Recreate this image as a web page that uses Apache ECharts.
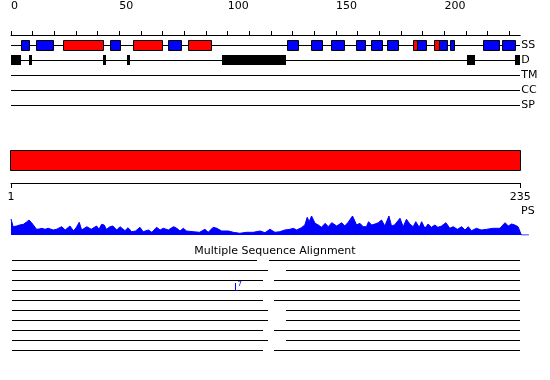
<!DOCTYPE html>
<html><head><meta charset="utf-8">
<script src="https://cdn.jsdelivr.net/npm/echarts@6/dist/echarts.min.js"></script>
<style>html,body{margin:0;padding:0;background:#fff}#c{width:550px;height:380px}</style>
</head><body><div id="c"></div>
<script>
// ---------- data ----------
const seqLength = 235;
const topTicks = [0,10,20,30,40,50,60,70,80,90,100,110,120,130,140,150,160,170,180,190,200,210,220,230];
const topTickLabels = [0,50,100,150,200];
const tracks = ['SS','D','TM','CC','SP'];
// secondary structure: H = helix (red), E = strand (blue)
const ssStart = [4.5,11.5,24,45.5,56.5,72.5,81.5,127.5,138.5,147.5,159,166,173.5,185.5,187.5,195,197.5,202.5,218,226.5];
const ssEnd   = [8.5,19.5,42.5,50.5,69.5,78.5,92.5,132.5,143.5,153.5,163.5,171,178.5,187.5,191.5,197.5,201,204.5,225,232.5];
const ssType  = ['E','E','H','E','H','E','H','E','E','E','E','E','E','H','E','H','E','E','E','E'];
// disorder segments
const disStart = [0,8.3,42.4,53.5,97.3,210.5,232.6];
const disEnd   = [4.5,9.7,43.8,54.9,126.8,214,234.9];
// domain bar
const domainStart = [0];
const domainEnd = [235];
const rangeTicks = [1,235];
// PS profile (residue, height)
const psRes = [0,1,2.6,4,5.7,7.2,8.3,9.5,10.3,11.8,13,14.2,15.7,17.2,19.5,21,23.4,25,27.2,28.8,30,31.5,32.6,35,37,39.5,40.6,41.8,43,44,45.7,47,48.8,50.3,52.6,54,55.7,57.5,59.5,61,63.4,65,67.2,68.8,70.3,72.6,75,76.5,78,79.5,81,84,87,89.5,91,93.3,95,97.2,100.3,102.6,105.6,108.7,111.8,115,117.2,119.5,121.8,124,126.4,128.7,130.3,131.8,134,135.6,136.7,137.6,138.7,140.3,141.8,143.3,145,146.4,148,150.3,152.6,154,155.6,157.6,159.5,161,162.5,164,165,166.4,168,169.5,171,172.5,174.4,175.6,177,179.5,181,182.5,184,185.6,186.8,188.4,189.5,191,192.5,194,195.6,197,198.7,200.7,202.5,204,206,208,209.5,211,212.5,214.8,217,219.5,222.5,225.6,228,229.5,231,232.5,234,235.5,239];
const psVal = [16,8.3,9,10,10.7,13,15,12.3,10,5.7,6,6.7,5.7,6.7,5,5.7,8.3,5,9,4.3,7,12.7,5,8.3,5.7,9,5.7,10.7,10,5.7,8.3,9,5,8.3,4.3,7.3,3.3,4,7.7,3.3,5,2.7,7.7,5,6.7,5,8.3,6.7,4,6.7,4,3.3,2.7,5.7,2.7,7.7,6.7,4,4,2.7,1.7,2.7,2.7,4,2.3,5.7,2.7,3.3,5,5.7,6.7,5,7.3,10,17.7,13.3,19,11.7,10,7.7,11.7,8.3,12.3,9,12.3,9,12.7,19,10,11.7,8.3,8.3,13.3,10,11,12.3,15,9,19,9,10,16.7,8.3,15.7,11,8.3,13.3,7.7,13.3,6.7,11,7.7,10,7.7,9,12.3,6.7,8.3,5.7,8.3,5,8.3,4.3,6.7,5,5.7,6.7,6.7,12.3,9,11,10,8.3,0,0];
// multiple sequence alignment rows
const msaRows = ['1','2','3','4','5','6','7','8','9','10'];
const msaLeftStart  = [0.5,0.5,0.5,0.5,0.5,0.5,0.5,0.5,0.5,0.5];
const msaLeftEnd    = [113.5,118.7,116.4,235,116.4,118.7,118.7,116.4,118.7,116.4];
const msaRightStart = [119,126.8,121.3,null,121.3,126.8,126.8,121.3,126.8,121.3];
const msaRightEnd   = [235,235,235,null,235,235,235,235,235,235];
const insertRow = [3];
const insertPos = [103.5];
const insertLen = ['7'];

// ---------- build ----------
const FONT = 'DejaVu Sans';
const L = 11, W = 235 * 2.167;
const ssData = ssStart.map((s,i)=>[s, ssEnd[i], 0, ssType[i]]);
const disData = disStart.map((s,i)=>[s, disEnd[i], 1]);
const trackLines = tracks.map((t,i)=>[0, seqLength, i]);
const domData = domainStart.map((s,i)=>[s, domainEnd[i], 0.5]);
const msaData = [];
msaRows.forEach((r,i)=>{
  msaData.push([msaLeftStart[i], msaLeftEnd[i], i]);
  if (msaRightStart[i] != null) msaData.push([msaRightStart[i], msaRightEnd[i], i]);
});
const insData = insertPos.map((p,i)=>[p, insertRow[i], insertLen[i]]);
const psData = psRes.map((r,i)=>[r, psVal[i]]);

function segLine(params, api){
  const a = api.coord([api.value(0), api.value(2)]);
  const b = api.coord([api.value(1), api.value(2)]);
  const y = Math.round(a[1]) + 0.5;
  return {type:'line', shape:{x1:Math.round(a[0]), y1:y, x2:Math.round(b[0]), y2:y}, style:{stroke:'#000', lineWidth:1}};
}
function ssRect(params, api){
  const a = api.coord([api.value(0), api.value(2)]);
  const b = api.coord([api.value(1), api.value(2)]);
  const x1 = Math.round(a[0]), x2 = Math.round(b[0]);
  const t = api.value(3);
  return {type:'rect', shape:{x:x1+0.5, y:Math.round(a[1]-5)+0.5, width:x2-x1, height:10},
    style:{fill: t==='H' ? '#ff0000' : '#0000ff', stroke:'#000', lineWidth:1}};
}
function disRect(params, api){
  const a = api.coord([api.value(0), api.value(2)]);
  const b = api.coord([api.value(1), api.value(2)]);
  const x1 = Math.round(a[0]), x2 = Math.round(b[0]);
  return {type:'rect', shape:{x:x1, y:Math.round(a[1]-5), width:Math.max(2,x2-x1), height:10}, style:{fill:'#000'}};
}
function domRect(params, api){
  const a = api.coord([api.value(0), 0]);
  const b = api.coord([api.value(1), 1]);
  const x1 = Math.round(a[0]) - 0.5, x2 = Math.round(b[0]) + 0.5;
  return {type:'rect', shape:{x:x1, y:Math.round(b[1])+0.5, width:x2-x1, height:Math.round(a[1]-b[1])-1},
    style:{fill:'#ff0000', stroke:'#000', lineWidth:1}};
}
function insMark(params, api){
  const c = api.coord([api.value(0), api.value(1)]);
  const x = Math.round(c[0]) + 0.5, y = Math.round(c[1]);
  return {type:'group', children:[
    {type:'polyline', shape:{points:[[x, y-7],[x, y+0.5],[x+2, y+0.5]]}, style:{stroke:'#0000ff', fill:null, lineWidth:1}},
    {type:'text', style:{text: String(api.value(2)), x:x+2, y:y-9, fill:'#0000ff', font:'7px "DejaVu Sans"'}}
  ]};
}

const hiddenX = (min,max)=>({type:'value', min, max, show:false});
const chart = echarts.init(document.getElementById('c'), null, {renderer:'canvas'});
chart.setOption({
  animation:false,
  backgroundColor:'#fff',
  textStyle:{fontFamily:FONT},
  title:[
    {text:'Multiple Sequence Alignment', left:'center', top:246, padding:0, textStyle:{fontFamily:FONT, fontSize:11, fontWeight:'normal', color:'#000'}},
    {text:'PS', left:521, top:206, padding:0, textStyle:{fontFamily:FONT, fontSize:11, fontWeight:'normal', color:'#000'}}
  ],
  grid:[
    {left:L, width:W, top:15, height:20},            // 0 top axis
    {left:L, width:W, top:37.5, height:75},          // 1 tracks
    {left:L, width:W, top:150, height:21},           // 2 domain bar
    {left:L, width:W, top:170, height:13},           // 3 range axis
    {left:L, width:239*2.167, top:210, height:25},   // 4 PS
    {left:L, width:W, top:255, height:100}           // 5 MSA
  ],
  xAxis:[
    {gridIndex:0, type:'value', position:'top', min:0, max:seqLength, interval:10,
     axisLine:{lineStyle:{color:'#000', width:1}}, splitLine:{show:false},
     axisTick:{customValues:topTicks, length:4, lineStyle:{color:'#000'}},
     axisLabel:{customValues:topTickLabels, align:'left', margin:3, color:'#000', fontFamily:FONT, fontSize:11}},
    {gridIndex:1, ...hiddenX(0, seqLength)},
    {gridIndex:2, ...hiddenX(0, seqLength)},
    {gridIndex:3, type:'value', position:'bottom', min:1, max:seqLength,
     axisLine:{lineStyle:{color:'#000', width:1}}, splitLine:{show:false},
     axisTick:{customValues:rangeTicks, length:5, lineStyle:{color:'#000'}},
     axisLabel:{customValues:rangeTicks, margin:9, color:'#000', fontFamily:FONT, fontSize:11}},
    {gridIndex:4, ...hiddenX(0, 239)},
    {gridIndex:5, ...hiddenX(0, seqLength)}
  ],
  yAxis:[
    {gridIndex:0, type:'value', show:false},
    {gridIndex:1, type:'category', data:tracks, inverse:true, position:'right',
     axisLine:{show:false}, axisTick:{show:false}, splitLine:{show:false},
     axisLabel:{margin:1, color:'#000', fontFamily:FONT, fontSize:11, align:'left'}},
    {gridIndex:2, type:'value', min:0, max:1, show:false},
    {gridIndex:3, type:'value', show:false},
    {gridIndex:4, type:'value', min:0, max:25, show:false},
    {gridIndex:5, type:'category', data:msaRows, inverse:true, show:false}
  ],
  series:[
    {type:'custom', xAxisIndex:1, yAxisIndex:1, data:trackLines, renderItem:segLine, silent:true},
    {type:'custom', xAxisIndex:1, yAxisIndex:1, data:ssData, renderItem:ssRect, silent:true},
    {type:'custom', xAxisIndex:1, yAxisIndex:1, data:disData, renderItem:disRect, silent:true},
    {type:'custom', xAxisIndex:2, yAxisIndex:2, data:domData, renderItem:domRect, silent:true},
    {type:'line', xAxisIndex:4, yAxisIndex:4, data:psData, symbol:'none', silent:true,
     lineStyle:{color:'#0000ff', width:1}, areaStyle:{color:'#0000ff', opacity:1}},
    {type:'custom', xAxisIndex:5, yAxisIndex:5, data:msaData, renderItem:segLine, silent:true},
    {type:'custom', xAxisIndex:5, yAxisIndex:5, data:insData, renderItem:insMark, silent:true}
  ]
});
</script></body></html>
